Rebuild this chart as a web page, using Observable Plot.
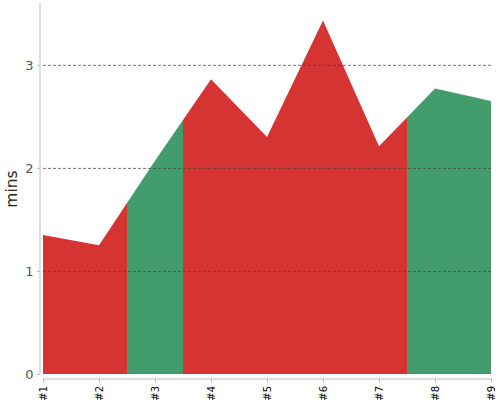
<!DOCTYPE html>
<html>
<head>
<meta charset="utf-8">
<script src="https://cdn.jsdelivr.net/npm/d3@7"></script>
<script src="https://cdn.jsdelivr.net/npm/@observablehq/plot@0.6"></script>
<style>
  html, body { margin: 0; padding: 0; background: #fff; }
  #chart { width: 500px; height: 400px; }
</style>
</head>
<body>
<div id="chart"></div>
<script>
// Data
const categories = [1, 2, 3, 4, 5, 6, 7, 8, 9];
const tickLabels = ["#1", "#2", "#3", "#4", "#5", "#6", "#7", "#8", "#9"];
const values = [1.35, 1.25, 2.07, 2.86, 2.30, 3.43, 2.21, 2.77, 2.65];
const status = ["bad", "bad", "good", "bad", "bad", "bad", "bad", "good", "good"];
const yTicks = [0, 1, 2, 3];
const gridTicks = [1, 2, 3];
const statusColors = {bad: "#d63333", good: "#439c6c"};

// Build colored runs; colour switches halfway between points
const segs = [];
let run = 0;
for (let i = 0; i < categories.length; i++) {
  if (i > 0 && status[i] !== status[i - 1]) run++;
  const c = statusColors[status[i]];
  if (i > 0 && status[i] !== status[i - 1]) {
    segs.push({x: (categories[i - 1] + categories[i]) / 2, y: (values[i - 1] + values[i]) / 2, run, c});
  }
  segs.push({x: categories[i], y: values[i], run, c});
  if (i < categories.length - 1 && status[i] !== status[i + 1]) {
    segs.push({x: (categories[i] + categories[i + 1]) / 2, y: (values[i] + values[i + 1]) / 2, run, c});
  }
}

const chart = Plot.plot({
  width: 500,
  height: 400,
  marginLeft: 43,
  marginRight: 9,
  marginTop: 3,
  marginBottom: 26,
  style: {fontFamily: "DejaVu Sans, sans-serif", background: "#fff"},
  x: {type: "linear", domain: [1, 9]},
  y: {domain: [0, 3.6]},
  color: {type: "identity"},
  marks: [
    Plot.areaY(segs, {x: "x", y1: 0, y2: "y", z: "run", fill: "c", curve: "linear"}),
    Plot.gridY({ticks: gridTicks, stroke: "#444", strokeOpacity: 0.75, strokeDasharray: "3,2"}),
    Plot.ruleX([1], {dx: -3.5, stroke: "#bbb"}),
    Plot.ruleY([0], {dy: 4.5, stroke: "#bbb"}),
    Plot.axisY({ticks: yTicks, tickFormat: "d", tickSize: 3, dx: -3, tickPadding: 4, fontSize: 13, stroke: "#bbb", color: "#555", label: null}),
    Plot.axisX({ticks: categories, tickFormat: (d) => tickLabels[categories.indexOf(d)], tickRotate: -90, tickSize: 4, dy: 4.5, tickPadding: 3, fontSize: 10, stroke: "#bbb", color: "#000", label: null}),
    Plot.text(["mins"], {frameAnchor: "left", textAnchor: "middle", dx: -31, rotate: -90, fontSize: 15.5, fill: "#222"})
  ]
});
document.getElementById("chart").appendChild(chart);
</script>
</body>
</html>
